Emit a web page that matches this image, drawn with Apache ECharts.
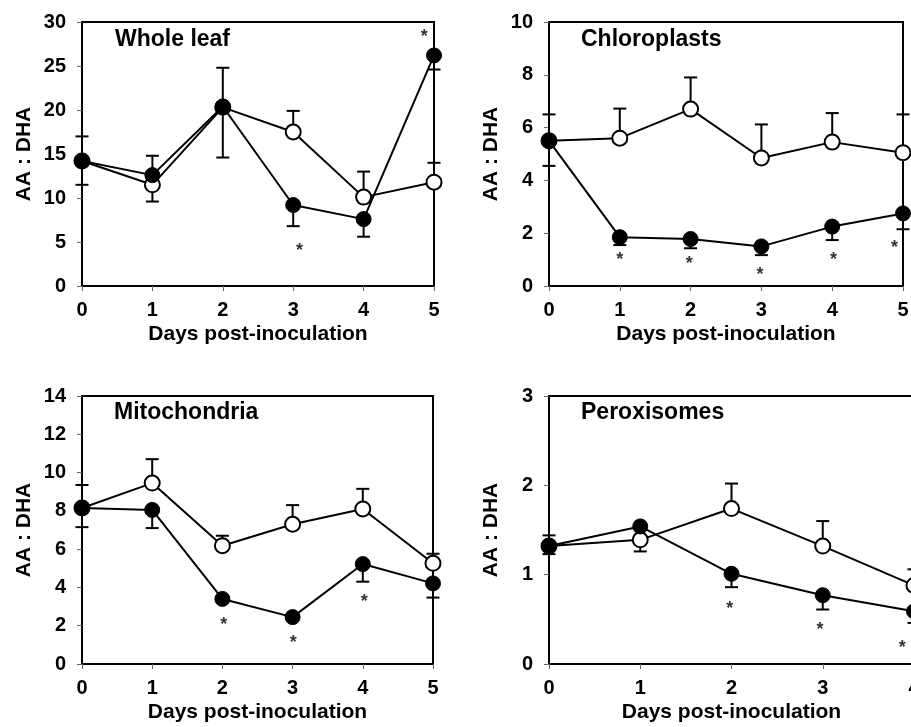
<!DOCTYPE html>
<html>
<head>
<meta charset="utf-8">
<script src="https://cdn.jsdelivr.net/npm/echarts@6/dist/echarts.min.js"></script>
<style>
  html, body { margin: 0; padding: 0; background: #fff; overflow: hidden; width: 911px; height: 727px; }
  #chart { width: 960px; height: 727px; }
</style>
</head>
<body>
<div id="chart"></div>
<script>
// Days after inoculation
const days = [0, 1, 2, 3, 4, 5];
const daysPerox = [0, 1, 2, 3, 4];

// Whole leaf AA:DHA ratio
const leafOpen = [14.2, 11.5, 20.3, 17.5, 10.1, 11.8];
const leafFilled = [14.2, 12.6, 20.4, 9.2, 7.6, 26.2];
const leafOpenUp = [17.0, 14.8, 24.8, 19.9, 13.0, 14.0];
const leafFilledDown = [11.5, 9.6, 14.6, 6.8, 5.6, 24.6];
const leafStars = [[3.09, 4.4], [4.86, 28.7]];

// Chloroplasts
const chloroOpen = [5.5, 5.6, 6.7, 4.85, 5.45, 5.05];
const chloroFilled = [5.5, 1.85, 1.78, 1.5, 2.25, 2.75];
const chloroOpenUp = [6.5, 6.72, 7.9, 6.12, 6.55, 6.5];
const chloroFilledDown = [4.55, 1.55, 1.43, 1.17, 1.74, 2.15];
const chloroStars = [[1.0, 1.14], [1.98, 1.0], [2.98, 0.58], [4.02, 1.14], [4.88, 1.6]];

// Mitochondria
const mitoOpen = [8.15, 9.45, 6.18, 7.3, 8.1, 5.26];
const mitoFilled = [8.15, 8.05, 3.4, 2.45, 5.22, 4.21];
const mitoOpenUp = [9.35, 10.7, 6.7, 8.3, 9.15, 5.76];
const mitoFilledDown = [7.15, 7.1, 3.2, 2.3, 4.3, 3.47];
const mitoStars = [[2.02, 2.26], [3.01, 1.29], [4.02, 3.47]];

// Peroxisomes
const peroxOpen = [1.32, 1.39, 1.74, 1.32, 0.88];
const peroxFilled = [1.32, 1.54, 1.01, 0.77, 0.59];
const peroxOpenUp = [1.44, 1.42, 2.02, 1.60, 1.06];
const peroxFilledDown = [1.23, 1.26, 0.86, 0.61, 0.46];
const peroxStars = [[1.98, 0.66], [2.97, 0.425], [3.87, 0.22]];

const panelTitles = ['Whole leaf', 'Chloroplasts', 'Mitochondria', 'Peroxisomes'];
const yTitle = 'AA : DHA';
const xTitle = 'Days post-inoculation';

const FONT = '"Liberation Sans", Arial, sans-serif';

const panels = [
  { x: days, open: leafOpen, filled: leafFilled, up: leafOpenUp, down: leafFilledDown, stars: leafStars, xMax: 5, yMax: 30, yStep: 5,
    grid: { left: 82, top: 22, width: 352, height: 264 }, title: [115, 28] },
  { x: days, open: chloroOpen, filled: chloroFilled, up: chloroOpenUp, down: chloroFilledDown, stars: chloroStars, xMax: 5, yMax: 10, yStep: 2,
    grid: { left: 549, top: 22, width: 354, height: 264 }, title: [581, 28] },
  { x: days, open: mitoOpen, filled: mitoFilled, up: mitoOpenUp, down: mitoFilledDown, stars: mitoStars, xMax: 5, yMax: 14, yStep: 2,
    grid: { left: 82, top: 396, width: 351, height: 268 }, title: [114, 401] },
  { x: daysPerox, open: peroxOpen, filled: peroxFilled, up: peroxOpenUp, down: peroxFilledDown, stars: peroxStars, xMax: 4, yMax: 3, yStep: 1,
    grid: { left: 549, top: 396, width: 365, height: 268 }, title: [581, 401] }
];

function pairs(xs, ys) { return xs.map((x, i) => [x, ys[i]]); }

// Error bar: vertical stem from the mean to the bar end, with a horizontal cap
function errorBarRenderer(params, api) {
  const x = api.value(0), y0 = api.value(1), y1 = api.value(2);
  const p0 = api.coord([x, y0]);
  const p1 = api.coord([x, y1]);
  const half = 6.5;
  const style = { stroke: '#000', lineWidth: 2 };
  return {
    type: 'group',
    children: [
      { type: 'line', shape: { x1: p0[0], y1: p0[1], x2: p1[0], y2: p1[1] }, style },
      { type: 'line', shape: { x1: p1[0] - half, y1: p1[1], x2: p1[0] + half, y2: p1[1] }, style }
    ]
  };
}

const grids = [], xAxes = [], yAxes = [], series = [], titles = [];

panels.forEach((p, i) => {
  grids.push(Object.assign({ show: true, borderColor: '#000', borderWidth: 2, backgroundColor: 'transparent' }, p.grid));
  titles.push({ text: panelTitles[i], left: p.title[0], top: p.title[1], padding: 0,
    textStyle: { fontFamily: FONT, fontWeight: 'bold', fontSize: 23, color: '#000' } });

  xAxes.push({
    gridIndex: i, type: 'value', min: 0, max: p.xMax, interval: 1,
    name: xTitle, nameLocation: 'middle', nameGap: 38,
    nameTextStyle: { fontFamily: FONT, fontWeight: 'bold', fontSize: 21, color: '#000' },
    axisLine: { show: false },
    axisTick: { show: true, inside: false, length: 5, lineStyle: { color: '#666', width: 1 } },
    axisLabel: { fontFamily: FONT, fontWeight: 'bold', fontSize: 20, color: '#000', margin: 14 },
    splitLine: { show: false }
  });
  yAxes.push({
    gridIndex: i, type: 'value', min: 0, max: p.yMax, interval: p.yStep,
    name: yTitle, nameLocation: 'middle', nameGap: 47, nameRotate: 90,
    nameTextStyle: { fontFamily: FONT, fontWeight: 'bold', fontSize: 21, color: '#000' },
    axisLine: { show: false },
    axisTick: { show: true, inside: false, length: 5, lineStyle: { color: '#666', width: 1 } },
    axisLabel: { fontFamily: FONT, fontWeight: 'bold', fontSize: 20, color: '#000', margin: 16 },
    splitLine: { show: false }
  });

  series.push({
    type: 'custom', xAxisIndex: i, yAxisIndex: i, z: 1, silent: true,
    renderItem: errorBarRenderer, encode: { x: 0, y: [1, 2] },
    data: p.x.map((x, k) => [x, p.open[k], p.up[k]])
  });
  series.push({
    type: 'custom', xAxisIndex: i, yAxisIndex: i, z: 1, silent: true,
    renderItem: errorBarRenderer, encode: { x: 0, y: [1, 2] },
    data: p.x.map((x, k) => [x, p.filled[k], p.down[k]])
  });
  series.push({
    type: 'line', xAxisIndex: i, yAxisIndex: i, z: 2,
    data: pairs(p.x, p.open), symbol: 'circle', symbolSize: 15,
    lineStyle: { color: '#000', width: 2 },
    itemStyle: { color: '#fff', borderColor: '#000', borderWidth: 2 }
  });
  series.push({
    type: 'line', xAxisIndex: i, yAxisIndex: i, z: 3,
    data: pairs(p.x, p.filled), symbol: 'circle', symbolSize: 15,
    lineStyle: { color: '#000', width: 2 },
    itemStyle: { color: '#000', borderColor: '#000', borderWidth: 1 }
  });
  // Significance markers
  series.push({
    type: 'scatter', xAxisIndex: i, yAxisIndex: i, z: 4, silent: true,
    data: p.stars, symbol: 'circle', symbolSize: 1,
    itemStyle: { color: 'rgba(0,0,0,0)' },
    label: { show: true, position: 'inside', offset: [0, 4], formatter: '*', fontFamily: FONT, fontWeight: 'bold', fontSize: 18, color: '#000' }
  });
});

const chart = echarts.init(document.getElementById('chart'), null, { renderer: 'canvas' });
chart.setOption({
  animation: false,
  backgroundColor: '#fff',
  title: titles,
  grid: grids,
  xAxis: xAxes,
  yAxis: yAxes,
  series: series
});
</script>
</body>
</html>
